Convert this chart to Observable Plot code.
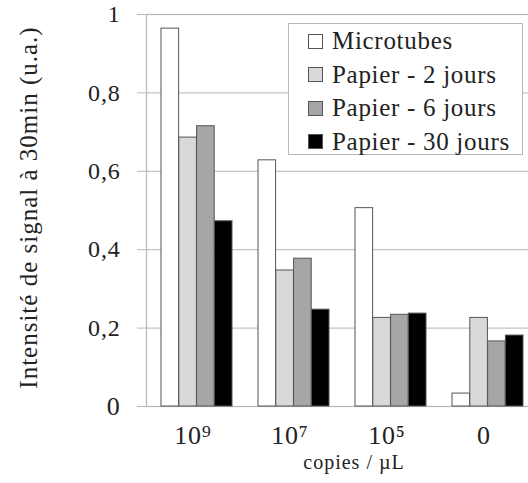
<!DOCTYPE html>
<html>
<head>
<meta charset="utf-8">
<script src="https://cdn.jsdelivr.net/npm/d3@7"></script>
<script src="https://cdn.jsdelivr.net/npm/@observablehq/plot@0.6"></script>
<style>
  html, body { margin: 0; padding: 0; background: #fff; }
  #wrap { position: relative; width: 528px; height: 483px; overflow: hidden; color: #222; }
  #wrap, #wrap * { font-family: "Liberation Serif", serif !important; }
  #legend { position: absolute; left: 288px; top: 23px; width: 235px; height: 132px; border: 1px solid #b8b8b8; background: #fff; box-sizing: border-box; }
  .row { position: absolute; left: 19px; height: 24px; display: flex; align-items: center; font-size: 25px; letter-spacing: 0.7px; white-space: nowrap; color: #222; }
  .sw { width: 15px; height: 15px; border: 1px solid #555; margin-right: 9px; box-sizing: border-box; }
</style>
</head>
<body>
<div id="wrap"><div id="chart"></div><div id="legend"></div></div>
<script>
const groups = ["10⁹", "10⁷", "10⁵", "0"];
const series = ["Microtubes", "Papier - 2 jours", "Papier - 6 jours", "Papier - 30 jours"];
const microtubes = [0.964, 0.628, 0.506, 0.033];
const papier2 = [0.686, 0.347, 0.226, 0.226];
const papier6 = [0.715, 0.377, 0.234, 0.166];
const papier30 = [0.4725, 0.247, 0.237, 0.181];
const colors = ["#ffffff", "#d9d9d9", "#a6a6a6", "#000000"];
const yTicks = [0, 0.2, 0.4, 0.6, 0.8, 1];
const yLabel = "Intensité de signal à 30min (u.a.)";
const xLabel = "copies / µL";

const values = [microtubes, papier2, papier6, papier30];
const data = [];
series.forEach((s, i) => groups.forEach((g, j) => data.push({group: g, series: s, idx: i, value: values[i][j]})));

const marginLeft = 146, marginRight = -9, width = 528;
const pIn = 0.273, pOut = 0.133;
const step = (width - marginRight - marginLeft) / (groups.length - pIn + 2 * pOut);
const bw = step * (1 - pIn);
const sub = bw / series.length;

const barMarks = series.map((s, i) => Plot.barY(data.filter(d => d.idx === i), {
  x: "group", y: "value", fill: colors[i], stroke: "#555", strokeWidth: 1,
  insetLeft: i * sub, insetRight: (series.length - 1 - i) * sub
}));

const fmt = d => d === 0 ? "0" : d === 1 ? "1" : String(d).replace(".", ",");
const yTickTexts = yTicks.map(fmt);

const plot = Plot.plot({
  width, height: 483,
  marginTop: 14, marginBottom: 77, marginLeft, marginRight,
  style: {fontFamily: "'Liberation Serif', serif", color: "#222", background: "transparent", overflow: "visible"},
  x: {type: "band", domain: groups, paddingInner: pIn, paddingOuter: pOut, label: null},
  y: {domain: [0, 1], label: null},
  marks: [
    Plot.ruleY(yTicks, {stroke: "#c4c4c4", strokeWidth: 1.2}),
    Plot.frame({stroke: "#b8b8b8", strokeWidth: 1.2}),
    ...barMarks,
    Plot.axisY(yTicks, {tickFormat: fmt, tickSize: 9, tickPadding: 17, stroke: "#b8b8b8", fill: "#222", label: null}),
    Plot.axisX({tickSize: 0, tickPadding: 19, dx: -4, fill: "#222", label: null}),
    Plot.text([yLabel], {text: d => d, frameAnchor: "left", textAnchor: "middle", rotate: -90, dx: -118, dy: -3, fontSize: 25, fill: "#222"}),
    Plot.text([xLabel], {text: d => d, frameAnchor: "bottom", lineAnchor: "middle", dy: 56, dx: 12, fontSize: 20, fill: "#222"})
  ]
});
document.getElementById("chart").appendChild(plot);
plot.querySelectorAll("text").forEach(t => {
  const c = t.textContent;
  if (c === yLabel || c === xLabel) t.setAttribute("letter-spacing", "1");
  else if (groups.includes(c)) { t.style.fontSize = "26px"; t.setAttribute("letter-spacing", "0.8"); }
  else if (yTickTexts.includes(c)) { t.style.fontSize = "24px"; t.setAttribute("letter-spacing", "0.8"); }
});

const legend = document.getElementById("legend");
series.forEach((s, i) => {
  const row = document.createElement("div");
  row.className = "row";
  row.style.top = (5 + i * 33.5) + "px";
  const sw = document.createElement("div");
  sw.className = "sw";
  sw.style.background = colors[i];
  const t = document.createElement("span");
  t.textContent = s;
  row.appendChild(sw); row.appendChild(t);
  legend.appendChild(row);
});
</script>
</body>
</html>
